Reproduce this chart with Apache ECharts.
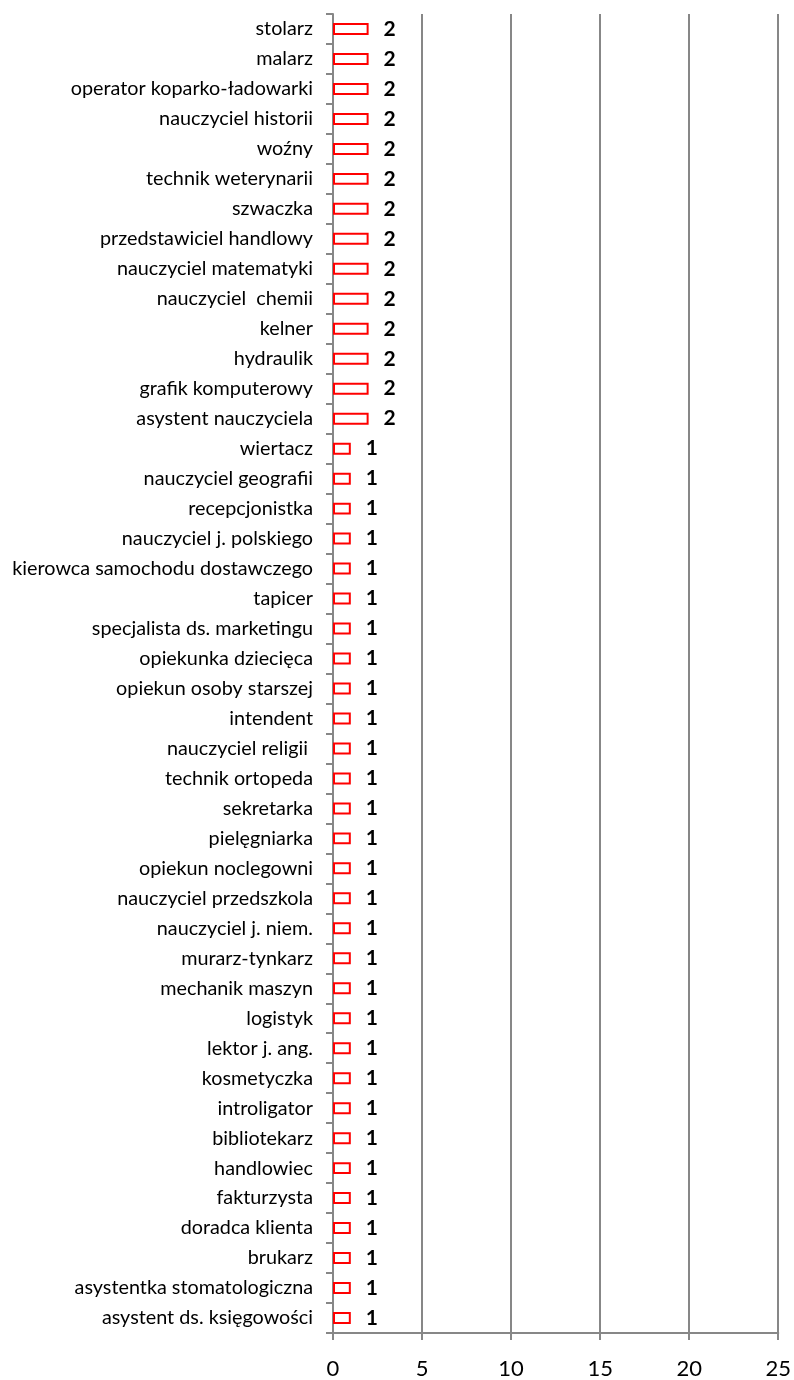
<!DOCTYPE html>
<html style="height: 100%">
<head>
    <meta charset="utf-8">
    <script src="https://cdn.jsdelivr.net/npm/echarts@6/dist/echarts.min.js"></script>
</head>
<body style="height: 100%; margin: 0; background: #fff">
    <div id="main" style="width: 794px; height: 1380px"></div>
    <script type="text/javascript">
        // listed bottom -> top, as the category axis draws them
        var jobs = [
            'asystent ds. księgowości', 'asystentka stomatologiczna', 'brukarz', 'doradca klienta',
            'fakturzysta', 'handlowiec', 'bibliotekarz', 'introligator', 'kosmetyczka',
            'lektor j. ang.', 'logistyk', 'mechanik maszyn', 'murarz-tynkarz', 'nauczyciel j. niem.',
            'nauczyciel przedszkola', 'opiekun noclegowni', 'pielęgniarka', 'sekretarka',
            'technik ortopeda', 'nauczyciel religii ', 'intendent', 'opiekun osoby starszej',
            'opiekunka dziecięca', 'specjalista ds. marketingu', 'tapicer',
            'kierowca samochodu dostawczego', 'nauczyciel j. polskiego', 'recepcjonistka',
            'nauczyciel geografii', 'wiertacz', 'asystent nauczyciela', 'grafik komputerowy',
            'hydraulik', 'kelner', 'nauczyciel  chemii', 'nauczyciel matematyki',
            'przedstawiciel handlowy', 'szwaczka', 'technik weterynarii', 'woźny',
            'nauczyciel historii', 'operator koparko-ładowarki', 'malarz', 'stolarz'
        ];
        var counts = [
            1, 1, 1, 1, 1, 1, 1, 1, 1, 1,
            1, 1, 1, 1, 1, 1, 1, 1, 1, 1,
            1, 1, 1, 1, 1, 1, 1, 1, 1, 1,
            2, 2, 2, 2, 2, 2, 2, 2, 2, 2,
            2, 2, 2, 2
        ];
        var xTicks = [0, 5, 10, 15, 20, 25];

        var chartDom = document.getElementById('main');
        var myChart = echarts.init(chartDom);
        var gray = '#878787';
        var option = {
            animation: false,
            textStyle: { fontFamily: 'Lato' },
            grid: { left: 333, right: 15, top: 14, bottom: 45 },
            xAxis: {
                type: 'value',
                min: xTicks[0],
                max: xTicks[xTicks.length - 1],
                interval: xTicks[1] - xTicks[0],
                axisLine: { show: true, lineStyle: { color: gray, width: 2 } },
                axisTick: { show: true, length: 7, lineStyle: { color: gray, width: 2 } },
                splitLine: { show: true, lineStyle: { color: gray, width: 2 } },
                axisLabel: { color: '#000', fontSize: 22, margin: 25, fontFamily: 'Lato' }
            },
            yAxis: {
                type: 'category',
                data: jobs,
                axisLine: { show: true, lineStyle: { color: gray, width: 2 } },
                axisTick: { show: true, length: 7, lineStyle: { color: gray, width: 2 } },
                axisLabel: { color: '#000', fontSize: 19.8, margin: 20, fontFamily: 'Lato' }
            },
            series: [
                {
                    type: 'bar',
                    data: counts,
                    barWidth: '40%',
                    itemStyle: { color: '#fff', borderColor: '#ff0000', borderWidth: 2 },
                    label: {
                        show: true,
                        position: 'right',
                        distance: 15,
                        color: '#000',
                        fontSize: 21,
                        fontWeight: 'bold',
                        fontFamily: 'Lato'
                    }
                }
            ]
        };
        myChart.setOption(option);
    </script>
</body>
</html>
